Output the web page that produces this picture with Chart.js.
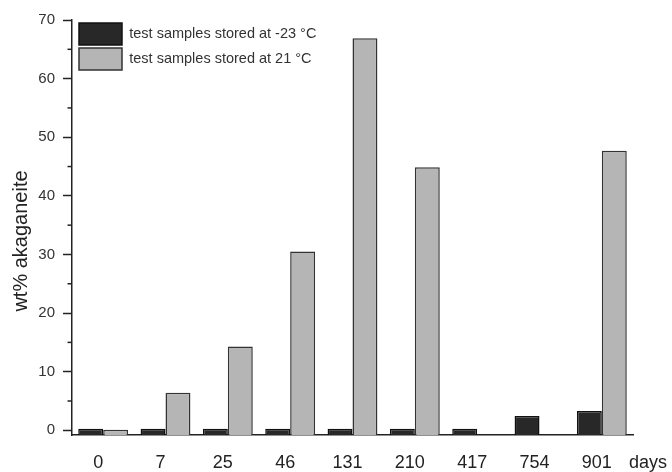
<!DOCTYPE html>
<html>
<head>
<meta charset="utf-8">
<script src="https://cdn.jsdelivr.net/npm/chart.js@4.4.1/dist/chart.umd.min.js"></script>
<style>
  body { margin: 0; background: #fff; }
  #wrap { width: 672px; height: 472px; }
</style>
</head>
<body>
<div id="wrap"><canvas id="chart" width="672" height="472"></canvas></div>
<script>
// storage time, days
const days = ['0', '7', '25', '46', '131', '210', '417', '754', '901'];
// wt% akaganeite
const cold = [0.25, 0.25, 0.25, 0.25, 0.25, 0.25, 0.25, 2.45, 3.3];
const warm = [0.1, 6.4, 14.3, 30.5, 66.9, 44.9, null, null, 47.7];
const yTicks = [0, 10, 20, 30, 40, 50, 60, 70];
const yMinorTicks = [5, 15, 25, 35, 45, 55, 65];

const yMin = -0.8;
const font = 'Liberation Sans, Arial, sans-serif';

// minor ticks, y title, and the "days" unit at the end of the x axis
const extras = {
  id: 'extras',
  afterLayout(chart) {
    // put the legend inside the plot, top left
    chart.legend.left += 4;
    chart.legend.right += 4;
    chart.legend.top += 20;
    chart.legend.bottom += 20;
  },
  afterDraw(chart) {
    const ctx = chart.ctx;
    const y = chart.scales.y;
    ctx.save();
    ctx.strokeStyle = '#222';
    ctx.lineWidth = 1.5;
    yMinorTicks.forEach(v => {
      const py = y.getPixelForValue(v);
      ctx.beginPath();
      ctx.moveTo(y.right - 4.5, py);
      ctx.lineTo(y.right, py);
      ctx.stroke();
    });
    ctx.fillStyle = '#222';
    ctx.font = '18px ' + font;
    ctx.textAlign = 'center';
    ctx.textBaseline = 'middle';
    ctx.fillText('days', 648, 463);

    ctx.translate(21, 241);
    ctx.rotate(-Math.PI / 2);
    ctx.font = '20px ' + font;
    ctx.fillText('wt% akaganeite', 0, 0);
    ctx.restore();
  }
};

new Chart(document.getElementById('chart'), {
  type: 'bar',
  data: {
    labels: days,
    datasets: [
      {
        label: 'test samples stored at -23 °C',
        data: cold,
        base: yMin,
        backgroundColor: '#282828',
        borderColor: '#111',
        borderWidth: 1.5,
      },
      {
        label: 'test samples stored at 21 °C',
        data: warm,
        base: yMin,
        backgroundColor: '#b5b5b5',
        borderColor: '#333',
        borderWidth: 1.5,
      },
    ],
  },
  options: {
    responsive: false,
    animation: false,
    layout: { padding: { top: 20, right: 39, left: 0, bottom: 0 } },
    datasets: { bar: { categoryPercentage: 0.8, barPercentage: 1.0 } },
    plugins: {
      tooltip: { enabled: false },
      legend: {
        position: 'chartArea',
        align: 'start',
        labels: {
          boxWidth: 43,
          boxHeight: 22,
          padding: 3,
          color: '#333',
          font: { family: font, size: 14.5 },
        },
      },
    },
    scales: {
      x: {
        grid: { display: false, drawTicks: false },
        border: { display: true, color: '#222', width: 1.5 },
        ticks: {
          padding: 17,
          labelOffset: -5,
          color: '#222',
          font: { family: font, size: 18 },
        },
        afterFit(scale) { scale.height = 37; },
      },
      y: {
        min: yMin,
        max: 70,
        afterBuildTicks(scale) {
          scale.ticks = yTicks.map(v => ({ value: v }));
        },
        grid: {
          drawOnChartArea: false,
          tickLength: 9,
          tickColor: '#222',
          tickWidth: 1.5,
        },
        border: { display: true, color: '#222', width: 1.5 },
        ticks: {
          padding: 8,
          color: '#333',
          font: { family: font, size: 15 },
        },
        afterFit(scale) { scale.width = 72; },
      },
    },
  },
  plugins: [extras],
});
</script>
</body>
</html>
